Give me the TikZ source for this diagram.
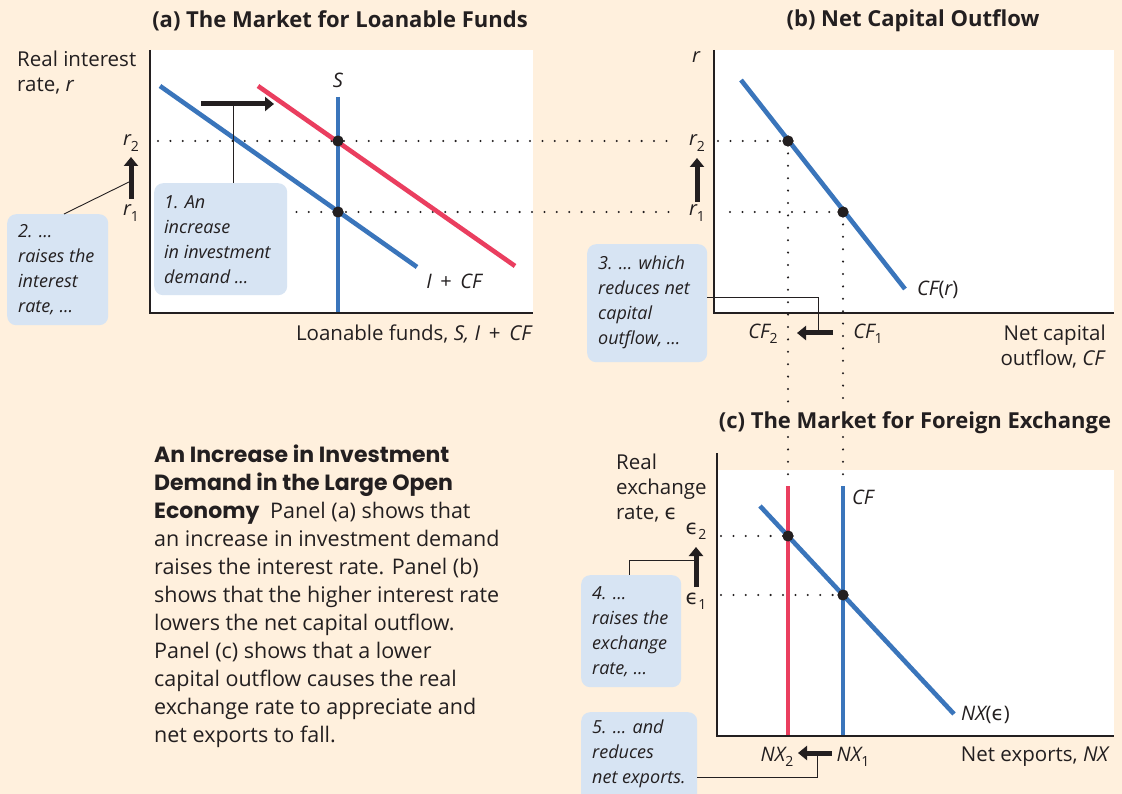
\documentclass[tikz,border=0pt]{standalone}
\usepackage{fontspec}
\setmainfont{Open Sans}
\newfontfamily\capfont{Poppins}
\newfontfamily\dejavu{DejaVu Sans}
\usetikzlibrary{arrows.meta}
\definecolor{bgc}{RGB}{255,240,221}
\definecolor{boxc}{RGB}{215,228,243}
\definecolor{cblue}{RGB}{58,117,187}
\definecolor{cred}{RGB}{234,62,95}
\definecolor{ink}{RGB}{35,31,32}
\newcommand{\lsub}[1]{\raisebox{-0.5ex}{\fontsize{14}{14}\selectfont\upshape #1}}
\newcommand{\eps}{{\dejavu\upshape ϵ}}
\begin{document}
\begin{tikzpicture}[x=1pt,y=-1pt,
  every node/.style={inner sep=0pt,text=ink},
  panel/.style={fill=white},
  axis/.style={draw=ink,line width=1.4pt},
  curveB/.style={draw=cblue,line width=4.6pt},
  curveR/.style={draw=cred,line width=4.6pt},
  dotline/.style={draw=ink,line width=2.3pt,line cap=round,dash pattern=on 0pt off 12.4pt},
  eqdot/.style={circle,fill=ink,minimum size=11pt,inner sep=0pt},
  bigarrow/.style={draw=ink,line width=5pt,-{Triangle[width=14pt,length=9pt]}},
  leader/.style={draw=ink,line width=0.9pt},
  notebox/.style={fill=boxc,rounded corners=9pt,anchor=north west,minimum width=#1},
  notetext/.style={align=left,anchor=west,font=\fontsize{18}{25}\selectfont\itshape},
  ttl/.style={font=\fontsize{22}{26}\selectfont\bfseries},
  lbl/.style={font=\fontsize{20.5}{25}\selectfont},
  ilbl/.style={font=\fontsize{20}{25}\selectfont\itshape}
]
\clip (0,0) rectangle (1122,794);
\useasboundingbox (0,0) rectangle (1122,794);
\fill[bgc] (0,0) rectangle (1122,794);

% ---------- panels ----------
\fill[panel] (150,50) rectangle (533,313);
\fill[panel] (714,50) rectangle (1114,313);
\fill[panel] (718,470) rectangle (1114,736);

% ---------- coordinates ----------
\coordinate (a0) at (150,50);  \coordinate (aO) at (150,313); \coordinate (aX) at (533,313);
\coordinate (b0) at (714,50);  \coordinate (bO) at (714,313); \coordinate (bX) at (1114,313);
\coordinate (c0) at (717,453); \coordinate (cO) at (717,736); \coordinate (cX) at (1114,736);

\coordinate (Ia) at (160,86);  \coordinate (Ib) at (417,267);
\coordinate (Ra) at (258,86);  \coordinate (Rb) at (515,266);
\coordinate (Sa) at (338,97);  \coordinate (Sb) at (338,313);
\coordinate (CFa) at (741,80); \coordinate (CFb) at (905,289);
\coordinate (NXa) at (760,506); \coordinate (NXb) at (954,714);
\coordinate (Va) at (788,486); \coordinate (Vb) at (788,736);
\coordinate (Wa) at (843,486); \coordinate (Wb) at (843,736);

% ---------- dotted guide lines ----------
\coordinate (r2s) at (158,141); \coordinate (r2e) at (676,141);
\coordinate (r2t) at (718,141);
\coordinate (r1s) at (160,212); \coordinate (r1e) at (676,212);
\coordinate (r1t) at (730,212);
\coordinate (vA1) at (788,405); \coordinate (vA2) at (788,437);
\coordinate (vB1) at (843,405); \coordinate (vB2) at (843,437);
\coordinate (e2s) at (721,536); \coordinate (e1s) at (721,595);

\node[eqdot] (d2) at (338,141) {};
\node[eqdot] (d1) at (338,212) {};
\node[eqdot] (p2) at (788,141) {};
\node[eqdot] (p1) at (843,212) {};
\node[eqdot] (q2) at (788,536) {};
\node[eqdot] (q1) at (843,595) {};

\draw[dotline] (r2s) -- (r2e);
\draw[dotline] (r2t) -- (p2.center);
\draw[dotline] (r1s) -- (r1e);
\draw[dotline] (r1t) -- (p1.center);
\draw[dotline] (p2.center) -- (vA1);
\draw[dotline] (vA2) -- (Va);
\draw[dotline] (p1.center) -- (vB1);
\draw[dotline] (vB2) -- (Wa);
\draw[dotline] (e2s) -- (q2.center);
\draw[dotline] (e1s) -- (q1.center);

% ---------- curves ----------
\draw[curveB] (Ia) -- (Ib);
\draw[curveR] (Ra) -- (Rb);
\draw[curveB] (Sa) -- (Sb);
\draw[curveB] (CFa) -- (CFb);
\draw[curveR] (Va) -- (Vb);
\draw[curveB] (Wa) -- (Wb);
\draw[curveB] (NXa) -- (NXb);

% ---------- axes ----------
\draw[axis] (a0) -- (aO) -- (aX);
\draw[axis] (b0) -- (bO) -- (bX);
\draw[axis] (c0) -- (cO) -- (cX);

% redraw dots on top
\node[eqdot] at (d2) {};
\node[eqdot] at (d1) {};
\node[eqdot] at (p2) {};
\node[eqdot] at (p1) {};
\node[eqdot] at (q2) {};
\node[eqdot] at (q1) {};

% ---------- shift arrows ----------
\coordinate (shA) at (201,104); \coordinate (shB) at (274,104);
\draw[bigarrow] (shA) -- (shB);
\coordinate (upA1) at (131,199); \coordinate (upA2) at (131,157);
\draw[bigarrow] (upA1) -- (upA2);
\coordinate (upB1) at (697,202); \coordinate (upB2) at (697,158);
\draw[bigarrow] (upB1) -- (upB2);
\coordinate (lfB1) at (833,333); \coordinate (lfB2) at (797,333);
\draw[bigarrow] (lfB1) -- (lfB2);
\coordinate (upC1) at (696,587); \coordinate (upC2) at (696,547);
\draw[bigarrow] (upC1) -- (upC2);
\coordinate (lfC1) at (832,753); \coordinate (lfC2) at (798,753);
\draw[bigarrow] (lfC1) -- (lfC2);

% ---------- note boxes ----------
\node[notebox=133pt,minimum height=112pt] (n1) at (154,183) {};
\node[notebox=101pt,minimum height=111pt] (n2) at (7,214) {};
\node[notebox=120pt,minimum height=118pt] (n3) at (587,244) {};
\node[notebox=100pt,minimum height=112pt] (n4) at (581,575) {};
\node[notebox=116pt,minimum height=92pt] (n5) at (581,712) {};

% ---------- leaders ----------
\coordinate (l1) at (233,104);
\draw[leader] (l1) -- (l1 |- n1.north);
\coordinate (l2a) at (129,182); \coordinate (l2b) at (64,214);
\draw[leader] (l2a) -- (l2b);
\coordinate (l3a) at (707,297); \coordinate (l3b) at (818,333);
\draw[leader] (l3a) -| (l3b);
\coordinate (l4a) at (696,560); \coordinate (l4b) at (629,575);
\draw[leader] (l4a) -| (l4b);
\coordinate (l5a) at (697,777); \coordinate (l5b) at (817,753);
\draw[leader] (l5a) -| (l5b);

% ---------- note texts ----------
\node[notetext] (t1) at (164,240) {1. An\\increase\\in investment\\demand ...};
\node[notetext] (t2) at (18,270) {2. ...\\raises the\\interest\\rate, ...};
\node[notetext] (t3) at (598,302) {3. ... which\\reduces net\\capital\\outflow, ...};
\node[notetext] (t4) at (592,632) {4. ...\\raises the\\exchange\\rate, ...};
\node[notetext,anchor=north west] (t5) at (592,720) {5. ... and\\reduces\\net exports.};

% ---------- titles ----------
\node[ttl] (ta) at (340,21) {(a) The Market for Loanable Funds};
\node[ttl] (tb) at (913,21) {(b) Net Capital Outflow};
\node[ttl] (tc) at (915,423) {(c) The Market for Foreign Exchange};

% ---------- panel (a) labels ----------
\node[lbl,align=left,anchor=north west] (ya) at (17,51) {Real interest\\rate, \textit{r}};
\node[ilbl] (Sl) at (338,80) {S};
\node[ilbl] (IC) at (454,281) {I \upshape\,+\, \itshape CF};
\node[lbl,anchor=east] (xa) at (533,334) {Loanable funds, \textit{S, I} \,+\, \textit{CF}};
\node[ilbl] (ar2) at (131,143) {r\lsub{2}};
\node[ilbl] (ar1) at (131,213) {r\lsub{1}};

% ---------- panel (b) labels ----------
\node[ilbl] (yb) at (696,57) {r};
\node[ilbl] (br2) at (697,143) {r\lsub{2}};
\node[ilbl] (br1) at (697,213) {r\lsub{1}};
\node[ilbl] (cf2) at (763,334) {CF\lsub{2}};
\node[ilbl] (cf1) at (868,334) {CF\lsub{1}};
\node[ilbl,anchor=west] (cfr) at (917,290) {CF\upshape(\itshape r\upshape)};
\node[lbl,align=right,anchor=north east] (xb) at (1106,325) {Net capital\\outflow, \textit{CF}};

% ---------- panel (c) labels ----------
\node[lbl,align=left,anchor=north west] (yc) at (616,454) {Real\\exchange\\rate, \eps};
\node[lbl] (ce2) at (696,531) {\eps\lsub{2}};
\node[lbl] (ce1) at (696,601) {\eps\lsub{1}};
\node[ilbl,anchor=west] (cfl) at (852,497) {CF};
\node[ilbl,anchor=west] (nxe) at (961,715) {NX\upshape(\eps)};
\node[ilbl] (nx2) at (777,757) {NX\lsub{2}};
\node[ilbl] (nx1) at (853,757) {NX\lsub{1}};
\node[lbl,anchor=east] (xc) at (1110,757) {Net exports, \textit{NX}};

% ---------- caption ----------
\node[align=left,anchor=north west,font=\fontsize{21.5}{28}\selectfont] (cap) at (154,445)
{{\capfont\bfseries\fontsize{22}{28}\selectfont An Increase in Investment}\\
{\capfont\bfseries\fontsize{22}{28}\selectfont Demand in the Large Open}\\
{\capfont\bfseries\fontsize{22}{28}\selectfont Economy}\enspace Panel (a) shows that\\
an increase in investment demand\\
raises the interest rate. Panel (b)\\
shows that the higher interest rate\\
lowers the net capital outflow.\\
Panel (c) shows that a lower\\
capital outflow causes the real\\
exchange rate to appreciate and\\
net exports to fall.};
\end{tikzpicture}
\end{document}
